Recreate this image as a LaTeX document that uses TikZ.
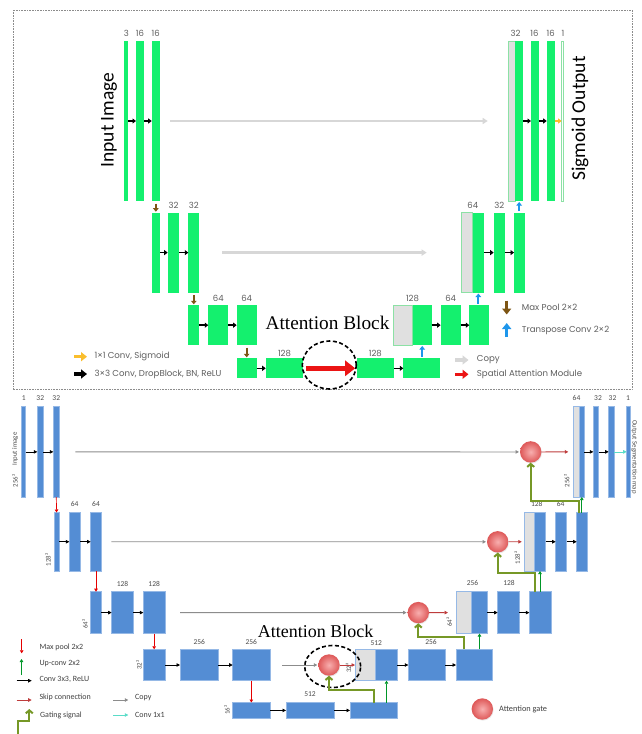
\documentclass[tikz,border=0pt]{standalone}
\usepackage{fontspec}
\setmainfont{Liberation Serif}
\newfontfamily\capfont{Carlito}
\newfontfamily\lgfont{Poppins}
\newfontfamily\smfont{Carlito}
\usetikzlibrary{arrows.meta,shapes.geometric,shadows}

\definecolor{tgreen}{RGB}{20,240,110}
\definecolor{lgreen}{RGB}{140,225,165}
\definecolor{cgray}{RGB}{224,224,224}
\definecolor{bblue}{RGB}{84,141,212}
\definecolor{bedge}{RGB}{150,185,230}
\definecolor{pbrown}{RGB}{125,85,20}
\definecolor{ublue}{RGB}{30,150,235}
\definecolor{sigyel}{RGB}{250,190,45}
\definecolor{samred}{RGB}{235,20,20}
\definecolor{cpline}{RGB}{215,215,215}
\definecolor{olive}{RGB}{118,152,38}
\definecolor{skipred}{RGB}{190,60,60}
\definecolor{teal1}{RGB}{90,220,200}
\definecolor{upgreen}{RGB}{0,150,40}
\definecolor{gin}{RGB}{248,175,175}
\definecolor{gout}{RGB}{222,88,88}
\definecolor{txtg}{RGB}{95,95,95}

% bar node: name, x1, y1, x2, y2, style
\newcommand{\blk}[6]{\node[#6, minimum width={#4-#2}, minimum height={#5-#3}, anchor=north west] (#1) at (#2,#3) {};}

\tikzset{
  barbase/.style={inner sep=0pt, outer sep=0pt, rectangle},
  gbar/.style={barbase, fill=tgreen},
  gcopy/.style={barbase, fill=cgray, draw=lgreen, line width=0.8pt},
  gthin/.style={barbase, fill=white, draw=lgreen, line width=0.6pt},
  bbar/.style={barbase, fill=bblue, draw=bedge, line width=0.5pt},
  bcopy/.style={barbase, fill=cgray, draw=bedge, line width=0.5pt},
  tnum/.style={font=\lgfont\fontsize{8.5}{9}\selectfont, text=txtg, inner sep=0pt},
  bnum/.style={font=\smfont\fontsize{7.5}{8}\selectfont, text=black!70, inner sep=0pt},
  brot/.style={font=\smfont\fontsize{6.8}{7}\selectfont, text=black!70, inner sep=0pt, rotate=90},
  tlg/.style={font=\lgfont\fontsize{8.6}{9}\selectfont, text=txtg, anchor=west, inner sep=0pt},
  blg/.style={font=\smfont\fontsize{8}{9}\selectfont, text=black!75, anchor=west, inner sep=0pt},
  title/.style={font=\capfont\fontsize{19.5}{20}\selectfont, rotate=90, inner sep=0pt},
  abtext/.style={inner sep=0pt},
  tconv/.style={line width=1.6pt, -{Triangle[length=3.5pt,width=5pt]}, black},
  tsig/.style={line width=1.6pt, -{Triangle[length=3.5pt,width=5pt]}, sigyel},
  tpool/.style={line width=2.2pt, -{Triangle[length=3.5pt,width=5.5pt]}, pbrown, shorten <=2.5pt, shorten >=1pt},
  tup/.style={line width=1.8pt, -{Triangle[length=3.5pt,width=5.5pt]}, ublue, shorten <=1.5pt, shorten >=1pt},
  tcopy/.style={line width=2.6pt, -{Triangle[length=5pt,width=6pt]}, cpline},
  tsam/.style={line width=5pt, -{Triangle[length=10pt,width=15pt]}, samred},
  lgfat/.style={line width=3.5pt, -{Triangle[length=6pt,width=9pt]}},
  bconv/.style={line width=0.7pt, -{Triangle[length=3.5pt,width=3.5pt]}, black},
  bteal/.style={line width=0.7pt, -{Triangle[length=3.5pt,width=3.5pt]}, teal1},
  bpool/.style={line width=0.7pt, -{Triangle[length=3pt,width=3.5pt]}, red!90!black},
  bup/.style={line width=0.7pt, -{Triangle[length=3pt,width=3.5pt]}, upgreen},
  bcpy/.style={line width=0.8pt, -{Triangle[length=3.5pt,width=3.5pt]}, black!45},
  bskip/.style={line width=0.8pt, -{Triangle[length=3.5pt,width=3.5pt]}, skipred},
  gating/.style={line width=2pt, -{Straight Barb[length=3pt,width=7pt]}, olive},
  gatenode/.style={circle, inner sep=0pt, outer sep=0pt, minimum size=21.4pt, shade, inner color=gin, outer color=gout,
    drop shadow={opacity=0.18, shadow xshift=0.6pt, shadow yshift=-0.9pt}},
  frame/.style={densely dotted, line width=0.6pt, black!45},
  ring/.style={ellipse, draw, dashed, line width=1.6pt, inner sep=0pt, dash pattern=on 4pt off 2.5pt}
}

\begin{document}
\begin{tikzpicture}[x=1pt,y=-1pt]
\useasboundingbox (0,0) rectangle (642,734);
\fill[white] (0,0) rectangle (642,734);

% ---------------- upper network (green) ----------------
\draw[frame] (13,10) rectangle (632,389.5);

% encoder
\blk{t1a}{124.3}{41}{128.3}{201}{gbar}
\blk{t1b}{136}{41}{144}{201}{gbar}
\blk{t1c}{151.7}{41}{160}{201}{gbar}
\blk{t2a}{151.7}{212.7}{160}{292.5}{gbar}
\blk{t2b}{167.7}{212.7}{179.3}{292.5}{gbar}
\blk{t2c}{188.3}{212.7}{199.3}{292.5}{gbar}
\blk{t3a}{188.3}{305.3}{199.3}{345}{gbar}
\blk{t3b}{208.3}{305.3}{228.3}{345}{gbar}
\blk{t3c}{236.7}{305.3}{256.7}{345}{gbar}
\blk{t4a}{236.7}{358.3}{256.7}{378.3}{gbar}
\blk{t4b}{265.7}{358.3}{303.3}{378.3}{gbar}
\blk{t4c}{356.7}{358.3}{394}{378.3}{gbar}
\blk{t4d}{403.3}{358.3}{440}{378.3}{gbar}
% decoder
\blk{t3g}{393.3}{305.3}{412.7}{345}{gcopy}
\blk{t3r}{412.7}{305.3}{431.7}{345}{gbar}
\blk{t3s}{440.7}{305.3}{460.7}{345}{gbar}
\blk{t3t}{469.3}{305.3}{489.3}{345}{gbar}
\blk{t2g}{461.7}{212.7}{472.7}{292.5}{gcopy}
\blk{t2r}{472.7}{212.7}{484}{292.5}{gbar}
\blk{t2s}{493.7}{212.7}{504.7}{292.5}{gbar}
\blk{t2t}{514}{212.7}{525}{292.5}{gbar}
\blk{t1g}{508.7}{41}{515}{201}{gcopy}
\blk{t1r}{515}{41}{523.3}{201}{gbar}
\blk{t1s}{531}{41}{539}{201}{gbar}
\blk{t1t}{546.7}{41}{555}{201}{gbar}
\blk{t1u}{561.6}{41}{563.2}{201}{gthin}

% channel counts
\node[tnum] (n1a) at (126.3,33) {3};
\node[tnum] (n1b) at (140,33) {16};
\node[tnum] (n1c) at (155.8,33) {16};
\node[tnum] (n2b) at (173.5,205.5) {32};
\node[tnum] (n2c) at (193.8,205.5) {32};
\node[tnum] (n3b) at (218.3,298.8) {64};
\node[tnum] (n3c) at (246.7,298.8) {64};
\node[tnum] (n4b) at (284.5,353) {128};
\node[tnum] (n4c) at (375.3,353) {128};
\node[tnum] (n3g) at (412.5,298.8) {128};
\node[tnum] (n3s) at (450.7,298.8) {64};
\node[tnum] (n2g) at (472.8,205.5) {64};
\node[tnum] (n2s) at (499.2,205.5) {32};
\node[tnum] (n1g) at (515.5,33) {32};
\node[tnum] (n1s) at (534.5,33) {16};
\node[tnum] (n1t) at (550.8,33) {16};
\node[tnum] (n1u) at (563,33) {1};

\node[title] (inimg) at (109,120) {Input Image};
\node[title] (sigout) at (580,118.5) {Sigmoid Output};
\node[abtext, font=\fontsize{19.3}{20}\selectfont] (abtop) at (327.5,322.5) {Attention Block};

% convolutions
\draw[tconv] (t1a.east) -- (t1b.west);
\draw[tconv] (t1b.east) -- (t1c.west);
\draw[tconv] (t2a.east) -- (t2b.west);
\draw[tconv] (t2b.east) -- (t2c.west);
\draw[tconv] (t3a.east) -- (t3b.west);
\draw[tconv] (t3b.east) -- (t3c.west);
\draw[tconv] (t4a.east) -- (t4b.west);
\draw[tconv] (t4c.east) -- (t4d.west);
\draw[tconv] (t3r.east) -- (t3s.west);
\draw[tconv] (t3s.east) -- (t3t.west);
\draw[tconv] (t2r.east) -- (t2s.west);
\draw[tconv] (t2s.east) -- (t2t.west);
\draw[tconv] (t1r.east) -- (t1s.west);
\draw[tconv] (t1s.east) -- (t1t.west);
\draw[tsig] (t1t.east) -- (t1u.west);

% pooling and transpose convolutions
\draw[tpool] (t1c.south) -- (t2a.north);
\draw[tpool] (t2c.south) -- (t3a.north);
\draw[tpool] (t3c.south) -- (t4a.north);
\draw[tup] (t3r.south |- t4d.north) -- (t3r.south);
\draw[tup] (t2r.south |- t3t.north) -- (t2r.south);
\draw[tup] (t1r.south |- t2t.north) -- (t1r.south);

% copies and spatial attention
\draw[tcopy, shorten <=10pt, shorten >=21pt] (t1c.east) -- (t1g.west);
\draw[tcopy, shorten <=23pt, shorten >=35pt] (t2c.east) -- (t2g.west);
\draw[tsam, shorten <=3pt, shorten >=1.5pt] (t4b.east) -- (t4c.west);
\node[ring, minimum width=54pt, minimum height=48pt] (ringtop) at (329.3,365) {};

% legend, upper network
\coordinate (lp1) at (506.7,300.5); \coordinate (lp2) at (506.7,314.5);
\draw[lgfat, pbrown] (lp1) -- (lp2);
\node[tlg] (lpt) at (521.7,307.3) {Max Pool 2×2};
\coordinate (lu1) at (506.7,337); \coordinate (lu2) at (506.7,323);
\draw[lgfat, ublue, line width=2.6pt] (lu1) -- (lu2);
\node[tlg] (lut) at (521.7,330) {Transpose Conv 2×2};
\coordinate (lc1) at (455,360); \coordinate (lc2) at (468.5,360);
\draw[lgfat, cpline] (lc1) -- (lc2);
\node[tlg] (lct) at (476.7,360) {Copy};
\coordinate (ls1) at (455,374.3); \coordinate (ls2) at (468.5,374.3);
\draw[lgfat, samred] (ls1) -- (ls2);
\node[tlg] (lst) at (476.7,374.3) {Spatial Attention Module};
\coordinate (ly1) at (74.3,356.7); \coordinate (ly2) at (87,356.7);
\draw[lgfat, sigyel] (ly1) -- (ly2);
\node[tlg] (lyt) at (94.3,356.7) {1×1 Conv, Sigmoid};
\coordinate (lk1) at (74.3,374); \coordinate (lk2) at (87,374);
\draw[lgfat, black] (lk1) -- (lk2);
\node[tlg] (lkt) at (94.3,374) {3×3 Conv, DropBlock, BN, ReLU};

% ---------------- lower network (blue) ----------------
% encoder
\blk{b1a}{21.7}{406.7}{25.7}{497}{bbar}
\blk{b1b}{37.3}{406.7}{43.3}{497}{bbar}
\blk{b1c}{53.3}{406.7}{59.3}{497}{bbar}
\blk{b2a}{53.8}{512.5}{59.3}{571}{bbar}
\blk{b2b}{69.3}{512.5}{80}{571}{bbar}
\blk{b2c}{90.7}{512.5}{101.3}{571}{bbar}
\blk{b3a}{90.7}{591.7}{101.3}{633.5}{bbar}
\blk{b3b}{111.7}{591.7}{133.3}{633.5}{bbar}
\blk{b3c}{143.3}{591.7}{165}{633.5}{bbar}
\blk{b4a}{143.3}{649.3}{165}{680.7}{bbar}
\blk{b4b}{180}{649.3}{218.3}{680.7}{bbar}
\blk{b4c}{232.7}{649.3}{270}{680.7}{bbar}
\blk{b5a}{232.7}{702.5}{270}{718.3}{bbar}
\blk{b5b}{286}{702.5}{334}{718.3}{bbar}
\blk{b5c}{350}{702.5}{397.3}{718.3}{bbar}
% decoder
\blk{b4g}{355}{649.3}{375.7}{680.7}{bcopy}
\blk{b4r}{375.7}{649.3}{397.3}{680.7}{bbar}
\blk{b4s}{408.3}{649.3}{445}{680.7}{bbar}
\blk{b4t}{456}{649.3}{492.7}{680.7}{bbar}
\blk{b3g}{456}{591.7}{471.7}{633.5}{bcopy}
\blk{b3r}{471.7}{591.7}{487.3}{633.5}{bbar}
\blk{b3s}{497.7}{591.7}{519}{633.5}{bbar}
\blk{b3t}{529.3}{591.7}{551}{633.5}{bbar}
\blk{b2g}{524.3}{512.5}{534.3}{571}{bcopy}
\blk{b2r}{534.3}{512.5}{545.7}{571}{bbar}
\blk{b2s}{555.7}{512.5}{566.7}{571}{bbar}
\blk{b2t}{576.7}{512.5}{587.7}{571}{bbar}
\blk{b1g}{573.3}{406.7}{579.3}{497}{bcopy}
\blk{b1r}{579.3}{406.7}{584.3}{497}{bbar}
\blk{b1s}{593.3}{406.7}{598.7}{497}{bbar}
\blk{b1t}{608.7}{406.7}{614}{497}{bbar}
\blk{b1u}{626.7}{406.7}{630}{497}{bbar}

% attention gates
\node[gatenode] (g1) at (530.7,451.9) {};
\node[gatenode] (g2) at (497.7,541.8) {};
\node[gatenode] (g3) at (418.3,612.6) {};
\node[gatenode] (g4) at (329,665) {};
\node[ring, minimum width=56pt, minimum height=42pt] (ringbot) at (332.7,666.5) {};
\node[abtext, font=\fontsize{18}{19}\selectfont] (abbot) at (315.5,631.7) {Attention Block};

% channel counts and sizes
\node[bnum] (m1a) at (23.7,398.3) {1};
\node[bnum] (m1b) at (40.3,398.3) {32};
\node[bnum] (m1c) at (56.3,398.3) {32};
\node[bnum] (m2b) at (74.7,504.3) {64};
\node[bnum] (m2c) at (96,504.3) {64};
\node[bnum] (m3b) at (122.5,584) {128};
\node[bnum] (m3c) at (154.2,584) {128};
\node[bnum] (m4b) at (199.2,641.7) {256};
\node[bnum] (m4c) at (251.3,641.7) {256};
\node[bnum] (m5b) at (310,694.3) {512};
\node[bnum] (m4g) at (376.3,642.7) {512};
\node[bnum] (m4s) at (431,641.7) {256};
\node[bnum] (m3g) at (472.5,583.3) {256};
\node[bnum] (m3s) at (509,583.3) {128};
\node[bnum] (m2g) at (536.7,504.3) {128};
\node[bnum] (m2s) at (560.7,504.3) {64};
\node[bnum] (m1g) at (576.5,398.3) {64};
\node[bnum] (m1s) at (598,398.3) {32};
\node[bnum] (m1t) at (612.5,398.3) {32};
\node[bnum] (m1u) at (628,398.3) {1};

\node[brot] (inimg2) at (15,449) {Input image};
\node[brot] (s256a) at (15,481) {256²};
\node[brot] (s128a) at (48,560) {128²};
\node[brot] (s64a) at (85,624) {64²};
\node[brot] (s32a) at (139,665) {32²};
\node[brot] (s16) at (227,710) {16²};
\node[brot] (s32b) at (348.5,668) {32²};
\node[brot] (s64b) at (449.3,622) {64²};
\node[brot] (s128b) at (517.3,558) {128²};
\node[brot] (s256b) at (566.7,481) {256²};
\node[brot, rotate=180] (outseg) at (634.5,457) {Output Segmentation map};

% convolutions
\draw[bconv] (b1a.east) -- (b1b.west);
\draw[bconv] (b1b.east) -- (b1c.west);
\draw[bconv] (b2a.east) -- (b2b.west);
\draw[bconv] (b2b.east) -- (b2c.west);
\draw[bconv] (b3a.east) -- (b3b.west);
\draw[bconv] (b3b.east) -- (b3c.west);
\draw[bconv] (b4a.east) -- (b4b.west);
\draw[bconv] (b4b.east) -- (b4c.west);
\draw[bconv] (b5a.east) -- (b5b.west);
\draw[bconv] (b5b.east) -- (b5c.west);
\draw[bconv] (b4r.east) -- (b4s.west);
\draw[bconv] (b4s.east) -- (b4t.west);
\draw[bconv] (b3r.east) -- (b3s.west);
\draw[bconv] (b3s.east) -- (b3t.west);
\draw[bconv] (b2r.east) -- (b2s.west);
\draw[bconv] (b2s.east) -- (b2t.west);
\draw[bconv] (b1r.east) -- (b1s.west);
\draw[bconv] (b1s.east) -- (b1t.west);
\draw[bteal] (b1t.east) -- (b1u.west);

% max pooling
\draw[bpool] (b1c.south) -- (b2a.north);
\draw[bpool] (b2c.south) -- (b3a.north);
\draw[bpool] (b3c.south) -- (b4a.north);
\draw[bpool] (b4c.south) -- (b5a.north);

% up-convolutions
\draw[bup] (b4r.south |- b5c.north) -- (b4r.south);
\draw[bup] (b3r.south |- b4t.north) -- (b3r.south);
\draw[bup] (b2r.south |- b3t.north) -- (b2r.south);
\draw[bup] (b1r.south |- b2t.north) -- (b1r.south);

% copies into the gates, gated skips out of them
\draw[bcpy, shorten <=16pt, shorten >=1pt] (b1c.east) -- (g1.west);
\draw[bcpy, shorten <=10pt, shorten >=1pt] (b2c.east) -- (g2.west);
\draw[bcpy, shorten <=15pt, shorten >=1pt] (b3c.east) -- (g3.west);
\draw[bcpy, shorten <=12pt, shorten >=1pt] (b4c.east) -- (g4.west);
\draw[bskip, shorten >=5pt] (g1.east) -- (b1g.west);
\draw[bskip, shorten >=2.5pt] (g2.east) -- (b2g.west);
\draw[bskip, shorten >=8pt] (g3.east) -- (b3g.west);
\draw[bskip] (g4.east) -- (b4g.west);

% gating signals
\draw[gating] ([xshift=-3.7pt]b2t.north) -- ++(0,-11.8) -| (g1.south);
\draw[gating] ([xshift=-5.2pt]b3t.north) -- ++(0,-18.4) -| (g2.south);
\draw[gating] ([xshift=-10.3pt]b4t.north) -- ++(0,-12.6) -| (g3.south);
\draw[gating] (b5c.north) -- ++(0,-12.5) -| (g4.south);

% legend, lower network
\coordinate (q1) at (21.7,639); \coordinate (q2) at (21.7,653.3);
\draw[bpool] (q1) -- (q2);
\node[blg] (qt1) at (39.3,647.3) {Max pool 2x2};
\coordinate (q3) at (21.5,675); \coordinate (q4) at (21.5,659);
\draw[bup] (q3) -- (q4);
\node[blg] (qt2) at (39.3,663.3) {Up-conv 2x2};
\coordinate (q5) at (16.7,680.7); \coordinate (q6) at (31.7,680.7);
\draw[bconv] (q5) -- (q6);
\node[blg] (qt3) at (39.3,679) {Conv 3x3, ReLU};
\coordinate (q7) at (16.7,700); \coordinate (q8) at (31.7,700);
\draw[bskip] (q7) -- (q8);
\node[blg] (qt4) at (39.3,697.3) {Skip connection};
\coordinate (q9) at (18.3,734); \coordinate (q10) at (29.3,720.7); \coordinate (q11) at (29.3,709);
\draw[gating] (q9) |- (q10) -- (q11);
\node[blg] (qt5) at (40,715) {Gating signal};
\coordinate (q12) at (113.3,700); \coordinate (q13) at (128.3,700);
\draw[bcpy] (q12) -- (q13);
\node[blg] (qt6) at (135,697.3) {Copy};
\coordinate (q14) at (113.3,715); \coordinate (q15) at (128.3,715);
\draw[bteal] (q14) -- (q15);
\node[blg] (qt7) at (135,715) {Conv 1x1};
\node[gatenode] (glg) at (482.3,709) {};
\node[blg, font=\smfont\fontsize{8.3}{9}\selectfont] (qt8) at (499,709) {Attention gate};
\end{tikzpicture}
\end{document}
